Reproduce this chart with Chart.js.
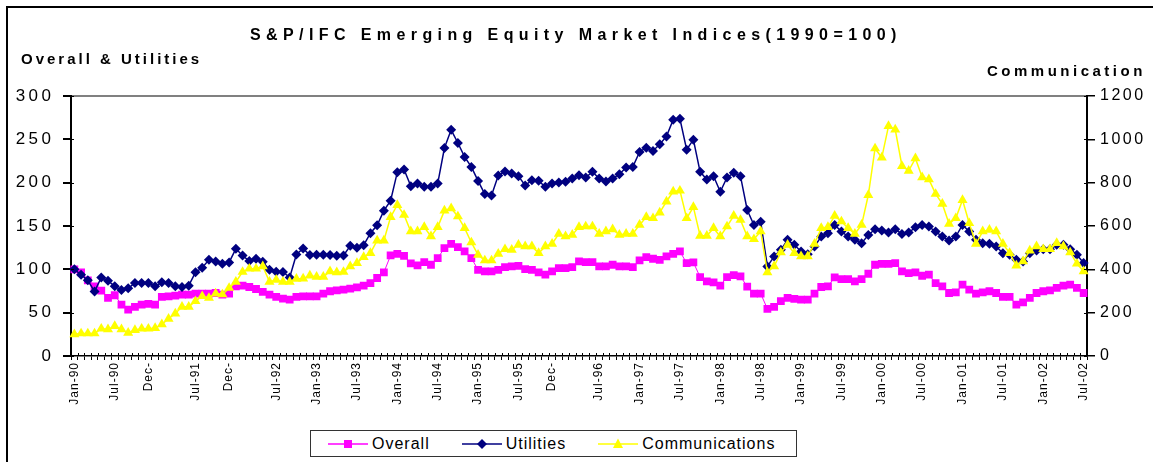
<!DOCTYPE html>
<html>
<head>
<meta charset="utf-8">
<script src="https://cdn.jsdelivr.net/npm/chart.js"></script>
<style>
html, body { margin: 0; padding: 0; background: #fff; }
#wrap { position: relative; width: 1153px; height: 462px; overflow: hidden; font-family: Arial, "Liberation Sans", sans-serif; color: #000; }
#frame { position: absolute; left: 6px; top: 6px; width: 1300px; height: 600px; border-top: 2px solid #000; border-left: 2px solid #000; }
canvas { position: absolute; left: 0; top: 0; }
.txt { position: absolute; white-space: nowrap; line-height: 1; font-weight: bold; }
#title { left: 250px; top: 27px; font-size: 16px; letter-spacing: 5.4px; }
#yLeftTitle { left: 21px; top: 51px; font-size: 15px; letter-spacing: 3px; }
#yRightTitle { left: 987px; top: 63px; font-size: 15px; letter-spacing: 3.5px; }
#legend { position: absolute; left: 310px; top: 430px; border: 1px solid #333; background: #fff; display: flex; align-items: center; padding-left: 17px; box-sizing: border-box; width: 487px; height: 27px; }
.item { display: flex; align-items: center; margin-right: 32px; font-size: 16px; letter-spacing: 1px; }
.item svg { margin-right: 4px; }
</style>
</head>
<body>
<div id="wrap">
  <div id="frame"></div>
  <canvas id="chart" width="1153" height="462"></canvas>
  <div class="txt" id="title">S&amp;P/IFC Emerging Equity Market Indices(1990=100)</div>
  <div class="txt" id="yLeftTitle">Overall &amp; Utilities</div>
  <div class="txt" id="yRightTitle">Communication</div>
  <div id="legend"></div>
</div>
<script>
(function(){
// monthly categories Jan-90 .. Jul-02
const monthNames = ['Jan','Feb','Mar','Apr','May','Jun','Jul','Aug','Sep','Oct','Nov','Dec'];
const months = [];
for (let y = 1990; y <= 2002; y++) {
    for (let m = 0; m < 12; m++) {
        if (y === 2002 && m > 6) break;
        months.push(monthNames[m] + '-' + String(y).slice(2));
    }
}

// months that get a label on the axis (Dec ones show as "Dec-")
const tickMonths = ['Jan-90','Jul-90','Dec-90','Jul-91','Dec-91','Jul-92','Jan-93','Jul-93','Jan-94','Jul-94',
    'Jan-95','Jul-95','Dec-95','Jul-96','Jan-97','Jul-97','Jan-98','Jul-98','Jan-99','Jul-99',
    'Jan-00','Jul-00','Jan-01','Jul-01','Jan-02','Jul-02'];

const overall = [100,96.5,87.3,80.4,75.4,67,70.1,59.4,53.6,56.7,59.4,60.1,59.4,68.1,68.9,69.7,70.8,70.8,72,72,
    72,72.7,70.8,72,80.4,81.2,79.6,77.3,73.9,70.8,68.1,66.2,65.1,68.1,68.9,68.9,68.9,72,74.7,75.8,
    76.6,77.7,79.2,81.2,84.2,90,96.5,116,117.9,115.6,107,104.5,108.3,105.3,112.9,124.4,129.4,125.6,120.6,112.9,
    99.5,97.6,97.6,99.5,102.6,103.4,104.1,100.3,99.5,96.5,93.8,97.6,101.5,101.5,102.6,109.1,108.3,108.3,103.4,103.4,
    105.3,103.4,103.4,102.6,110.3,114.1,112.2,111,114.9,117.9,120.6,107.2,108,91.1,86.1,85,81.2,91.1,93.4,91.9,
    80,72,72,54.4,56.7,63.2,67,65.9,65.1,65.1,72,79.6,80.4,90.7,88.8,88.8,86.1,88.8,94.9,105.3,
    106.4,106.4,107.2,97.6,95.7,96.5,92.6,93.8,84.2,80.4,72.7,73.5,82.3,76.6,72,73.5,74.7,72.7,68.1,68.1,
    59.4,62,67,72.7,74.7,75.8,78.5,81.2,82.3,78.5,72.7];

const utilities = [100,93.8,87.3,74.3,90.7,86.9,80.4,76.2,78.1,84.2,84.2,84.2,80.4,85,84.2,80.4,79.6,81.2,96.5,101.8,
    111,109.1,106.4,108,123.7,116,109.5,112.2,108.7,99.5,97.2,96.9,90.7,117.2,124,116.4,116.8,116.8,116.4,115.6,
    116,127.1,124.8,127.9,141.7,150.8,167.7,179.2,212.1,215.2,196,199,195.3,195.3,199,240,261,245.8,229.7,218.2,
    202,186.8,185.3,208.3,212.9,210.6,207.5,196.8,202.9,202.1,195.3,199,200.2,201,204.8,208.6,206,212.5,204.8,201.4,
    204.8,209.8,217.5,218.2,235.5,240.4,236.6,244.3,253.4,272.6,273.7,238.1,249.6,212.5,203.7,207.5,189.5,206,211.3,207.5,
    168.5,151.2,155,103.4,114.9,122.5,134,128.3,120.6,117.5,126.3,137.8,141.7,151.2,143.6,137.8,134,130.2,139.7,146.2,
    144.7,142.4,146.2,140.9,142.4,148.5,151.2,149.3,143.6,137.8,133.2,137.8,151.2,143.6,134,130.2,129.4,126.3,118.7,116.8,
    111,109.1,118.7,121.7,123.3,123.3,128.3,128.3,123.3,116.8,107.2];

const communications = [100,104,104,104,126,123,138,123,107,120,126,126,129,146,172,196,227,227,253,276,
    268,288,284,314,342,388,403,403,414,342,352,342,342,356,357,371,365,365,391,386,
    388,414,429,457,475,533,533,641,697,651,575,575,595,552,595,671,682,644,590,524,
    467,441,441,472,493,490,513,506,506,475,506,518,564,552,559,595,598,598,564,575,
    585,559,564,564,605,641,636,662,713,759,763,636,687,555,555,590,552,598,647,628,
    552,539,575,386,414,478,513,475,460,460,518,590,595,647,621,590,564,605,743,958,
    916,1061,1045,877,855,912,825,815,748,702,610,636,720,613,518,575,582,575,518,475,
    417,437,487,506,493,493,521,506,478,426,391];

const seriesNames = ['Overall', 'Utilities', 'Communications'];
const seriesColors = ['#FF00FF', '#000080', '#FFFF00'];

// per-scale letter spacing for tick labels
const tickSpacing = {
    id: 'tickSpacing',
    afterUpdate(chart) {
        Object.values(chart.scales).forEach(scale => {
            if (scale._spaced) return;
            const draw = scale.drawLabels;
            scale.drawLabels = function (area) {
                this.ctx.save();
                this.ctx.letterSpacing = this.options.ticks.spacing || '0px';
                draw.call(this, area);
                this.ctx.restore();
            };
            scale._spaced = true;
        });
    }
};

// small inner half of the tick marks (excel crosses them over the axis)
const innerTicks = {
    id: 'innerTicks',
    afterDatasetsDraw(chart) {
        const ctx = chart.ctx;
        const x = chart.scales.x, yL = chart.scales.y, yR = chart.scales.y1;
        const half = (x.getPixelForValue(1) - x.getPixelForValue(0)) / 2;
        ctx.save();
        ctx.strokeStyle = '#000';
        ctx.lineWidth = 1;
        ctx.beginPath();
        for (let i = 0; i <= months.length; i++) {
            const px = Math.round(x.getPixelForValue(i) - half) + 0.5;
            ctx.moveTo(px, x.top - 3);
            ctx.lineTo(px, x.top);
        }
        yL.ticks.forEach(t => {
            const py = Math.round(yL.getPixelForValue(t.value)) + 0.5;
            ctx.moveTo(yL.right, py);
            ctx.lineTo(yL.right + 3, py);
        });
        yR.ticks.forEach(t => {
            const py = Math.round(yR.getPixelForValue(t.value)) + 0.5;
            ctx.moveTo(yR.left - 3, py);
            ctx.lineTo(yR.left, py);
        });
        ctx.stroke();
        ctx.restore();
    }
};

const chart = new Chart(document.getElementById('chart'), {
    type: 'line',
    data: {
        labels: months,
        datasets: [{
            label: seriesNames[0],
            data: overall,
            yAxisID: 'y',
            borderColor: seriesColors[0],
            backgroundColor: seriesColors[0],
            borderWidth: 1,
            pointStyle: 'rect',
            pointRadius: 5.5,
            pointBorderWidth: 0,
            order: 2
        }, {
            label: seriesNames[1],
            data: utilities,
            yAxisID: 'y',
            borderColor: seriesColors[1],
            backgroundColor: seriesColors[1],
            borderWidth: 1.5,
            pointStyle: 'rectRot',
            pointRadius: 5,
            pointBorderWidth: 0,
            order: 1
        }, {
            label: seriesNames[2],
            data: communications,
            yAxisID: 'y1',
            borderColor: seriesColors[2],
            backgroundColor: seriesColors[2],
            borderWidth: 1.5,
            pointStyle: 'triangle',
            pointRadius: 5.8,
            pointBorderWidth: 0,
            order: 0
        }]
    },
    options: {
        responsive: false,
        animation: false,
        events: [],
        layout: { padding: { top: 96, left: 0, right: 0, bottom: 0 } },
        plugins: {
            legend: { display: false },
            title: { display: false },
            tooltip: { enabled: false }
        },
        elements: { line: { tension: 0 } },
        scales: {
            x: {
                type: 'category',
                offset: true,
                border: { display: true, color: '#000', width: 1.5 },
                grid: { drawOnChartArea: false, offset: true, tickLength: 4, color: '#000', lineWidth: 1 },
                ticks: {
                    autoSkip: false,
                    minRotation: 90,
                    maxRotation: 90,
                    padding: 2,
                    color: '#000',
                    spacing: '1px',
                    font: { family: 'Arial, "Liberation Sans", sans-serif', size: 12 },
                    callback: function (value, index) {
                        const lab = months[index];
                        if (!tickMonths.includes(lab)) return '';
                        return lab.startsWith('Dec') ? 'Dec-' : lab;
                    }
                },
                afterFit: s => { s.height = 106; }
            },
            y: {
                position: 'left',
                min: 0,
                max: 300,
                border: { display: true, color: '#000', width: 2 },
                grid: {
                    drawOnChartArea: true,
                    tickLength: 8,
                    tickColor: '#000',
                    color: c => (c.tick && c.tick.value === 300) ? '#808080' : 'rgba(0,0,0,0)',
                    lineWidth: 2
                },
                ticks: {
                    stepSize: 50,
                    padding: 8.5,
                    color: '#000',
                    spacing: '3.5px',
                    font: { family: 'Arial, "Liberation Sans", sans-serif', size: 17 }
                },
                afterFit: s => { s.width = 71; }
            },
            y1: {
                position: 'right',
                min: 0,
                max: 1200,
                border: { display: true, color: '#000', width: 2 },
                grid: { drawOnChartArea: false, tickLength: 8, color: '#000', lineWidth: 1.5 },
                ticks: {
                    stepSize: 200,
                    padding: 5,
                    color: '#000',
                    spacing: '2.5px',
                    font: { family: 'Arial, "Liberation Sans", sans-serif', size: 16 },
                    callback: v => String(v)
                },
                afterFit: s => { s.width = 66; }
            }
        }
    },
    plugins: [tickSpacing, innerTicks]
});

// legend in the excel style: line with the marker in the middle
const markers = {
    rect: c => `<rect x="16" y="2" width="8" height="8" fill="${c}"/>`,
    rectRot: c => `<polygon points="20,1 25,6 20,11 15,6" fill="${c}"/>`,
    triangle: c => `<polygon points="20,0.5 25,10 15,10" fill="${c}"/>`
};
const legend = document.getElementById('legend');
chart.data.datasets.forEach(ds => {
    const item = document.createElement('div');
    item.className = 'item';
    item.innerHTML = `<svg width="40" height="12"><line x1="0" y1="6" x2="40" y2="6" stroke="${ds.borderColor}" stroke-width="1.5"/>${markers[ds.pointStyle](ds.borderColor)}</svg><span>${ds.label}</span>`;
    legend.appendChild(item);
});
}());
</script>
</body>
</html>
